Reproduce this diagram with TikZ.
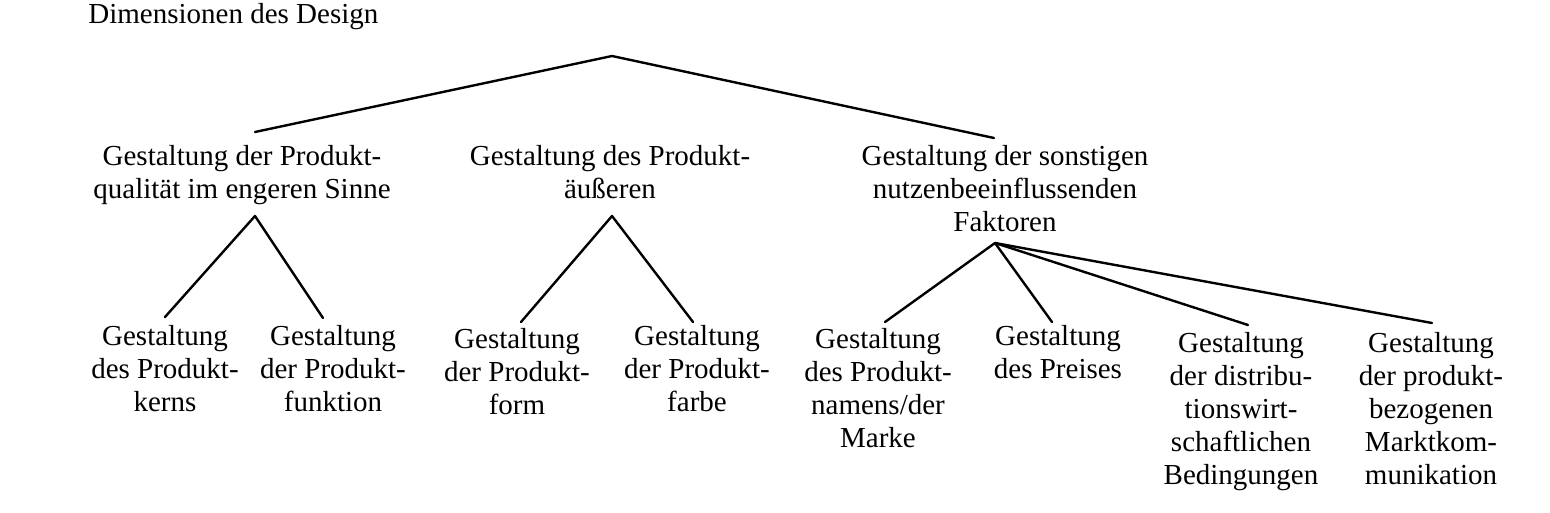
\documentclass[tikz,border=0pt]{standalone}
\usepackage{fontspec}
\setmainfont{Liberation Serif}
\begin{document}
\begin{tikzpicture}[x=0.5pt,y=-0.5pt,
  lab/.style={font=\fontsize{14.5}{16.5}\selectfont, align=center, inner sep=0pt, anchor=north},
  edge/.style={line width=1.2pt, line join=round, line cap=round}]
\useasboundingbox (0,0) rectangle (1550,513);
% title
\node[lab, anchor=north west] (title) at (88,3) {Dimensionen des Design};
% level 1
\node[lab] (n1) at (242,145) {Gestaltung der Produkt-\\qualität im engeren Sinne};
\node[lab] (n2) at (610,145) {Gestaltung des Produkt-\\äußeren};
\node[lab] (n3) at (1005,145) {Gestaltung der sonstigen\\nutzenbeeinflussenden\\Faktoren};
% level 2
\node[lab] (l1) at (165,325) {Gestaltung\\des Produkt-\\kerns};
\node[lab] (l2) at (333,325) {Gestaltung\\der Produkt-\\funktion};
\node[lab] (l3) at (517,328) {Gestaltung\\der Produkt-\\form};
\node[lab] (l4) at (697,325) {Gestaltung\\der Produkt-\\farbe};
\node[lab] (l5) at (878,328) {Gestaltung\\des Produkt-\\namens/der\\Marke};
\node[lab] (l6) at (1058,325) {Gestaltung\\des Preises};
\node[lab] (l7) at (1241,332) {Gestaltung\\der distribu-\\tionswirt-\\schaftlichen\\Bedingungen};
\node[lab] (l8) at (1431,332) {Gestaltung\\der produkt-\\bezogenen\\Marktkom-\\munikation};
% connector points
\coordinate (top) at (612,56);
\coordinate (t1) at (255,132);
\coordinate (t3) at (994,138);
\coordinate (g1) at (255,216);
\coordinate (g1a) at (165,317);
\coordinate (g1b) at (323,318);
\coordinate (g2) at (612,216);
\coordinate (g2a) at (521,322);
\coordinate (g2b) at (693,322);
\coordinate (g3) at (995,243);
\coordinate (g3a) at (885,322);
\coordinate (g3b) at (1052,322);
\coordinate (g3c) at (1248,325);
\coordinate (g3d) at (1432,323);
% connectors
\draw[edge] (t1) -- (top) -- (t3);
\draw[edge] (g1a) -- (g1) -- (g1b);
\draw[edge] (g2a) -- (g2) -- (g2b);
\draw[edge] (g3a) -- (g3) -- (g3b);
\draw[edge] (g3) -- (g3c);
\draw[edge] (g3) -- (g3d);
\end{tikzpicture}
\end{document}
